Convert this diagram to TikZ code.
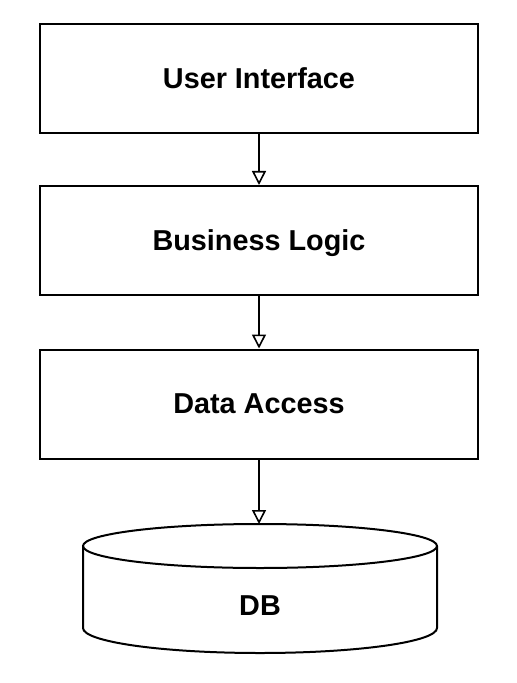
\documentclass[tikz,border=0pt]{standalone}
\usepackage{fontspec}
\setmainfont{Liberation Sans}
\usetikzlibrary{arrows.meta}

\begin{document}
\begin{tikzpicture}[x=0.5pt, y=-0.5pt,
  every node/.style = {font=\bfseries\fontsize{14.4}{17}\selectfont},
  layer/.style = {shape=rectangle, draw, line width=1pt,
    minimum width=219pt, minimum height=54.5pt, text depth=0pt},
  link/.style = {draw, line width=0.8pt,
    -{Triangle[open, length=7pt, width=7pt]}}]
  \useasboundingbox (0,0) rectangle (516,683);
  \node[layer] (ui) at (259,78.5) {User Interface};
  \node[layer] (logic) at (259,240.5) {Business Logic};
  \node[layer] (data) at (259,404) {Data Access};
  % database drum
  \coordinate (dbtop) at (259,524);
  \draw[line width=1pt] (260,546) ellipse [x radius=177, y radius=22];
  \draw[line width=1pt] (83,546) -- (83,628)
    arc [start angle=180, end angle=0, x radius=177, y radius=25] -- (437,546);
  \node (db) at (260,606) {DB};
  \draw[link] (ui) -- (logic);
  \draw[link] (logic) -- (data);
  \draw[link] (data) -- (dbtop);
\end{tikzpicture}
\end{document}
